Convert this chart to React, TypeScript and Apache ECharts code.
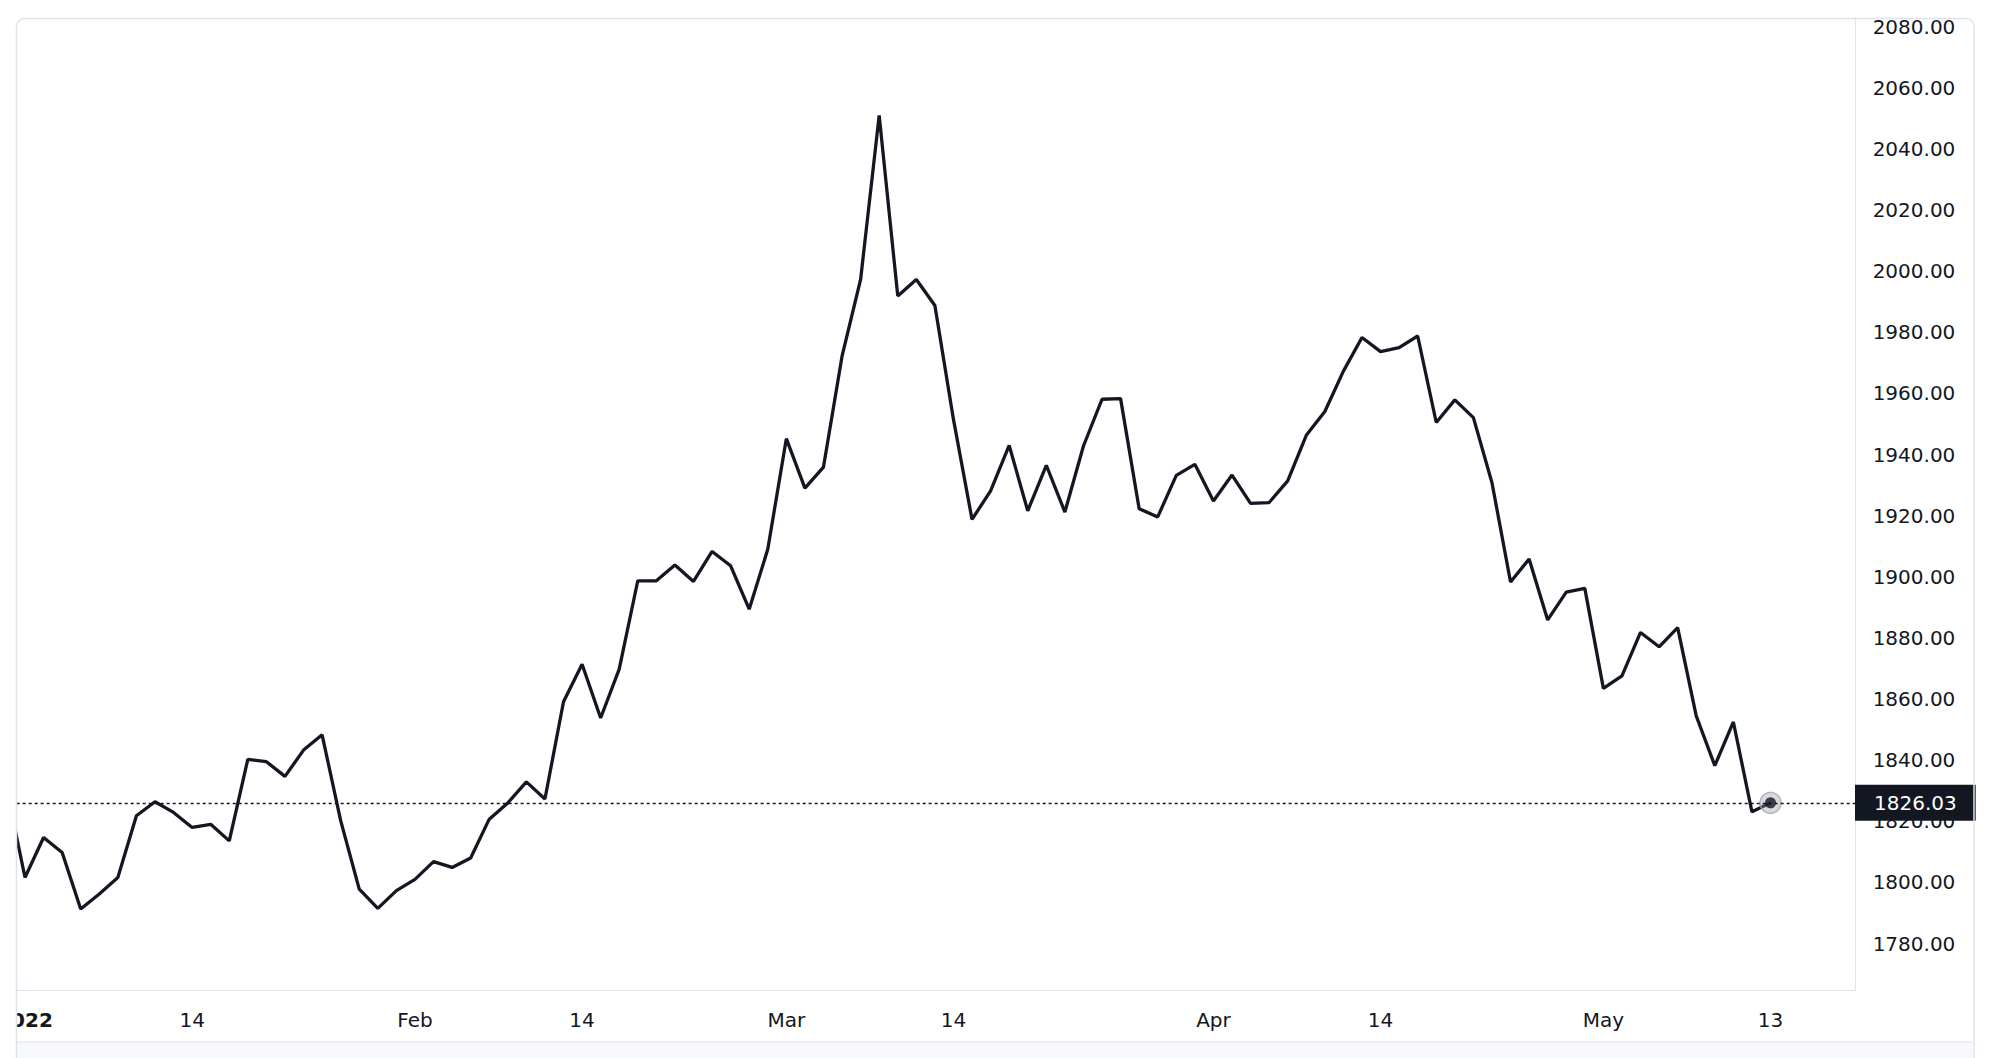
import React, { useEffect, useRef } from "react";
import * as echarts from "echarts";

const dates = [
  "2021-12-31",
  "2022-01-03", "2022-01-04", "2022-01-05", "2022-01-06", "2022-01-07",
  "2022-01-10", "2022-01-11", "2022-01-12", "2022-01-13", "2022-01-14",
  "2022-01-17", "2022-01-18", "2022-01-19", "2022-01-20", "2022-01-21",
  "2022-01-24", "2022-01-25", "2022-01-26", "2022-01-27", "2022-01-28",
  "2022-01-31",
  "2022-02-01", "2022-02-02", "2022-02-03", "2022-02-04",
  "2022-02-07", "2022-02-08", "2022-02-09", "2022-02-10", "2022-02-11",
  "2022-02-14", "2022-02-15", "2022-02-16", "2022-02-17", "2022-02-18",
  "2022-02-21", "2022-02-22", "2022-02-23", "2022-02-24", "2022-02-25",
  "2022-02-28",
  "2022-03-01", "2022-03-02", "2022-03-03", "2022-03-04",
  "2022-03-07", "2022-03-08", "2022-03-09", "2022-03-10", "2022-03-11",
  "2022-03-14", "2022-03-15", "2022-03-16", "2022-03-17", "2022-03-18",
  "2022-03-21", "2022-03-22", "2022-03-23", "2022-03-24", "2022-03-25",
  "2022-03-28", "2022-03-29", "2022-03-30", "2022-03-31",
  "2022-04-01",
  "2022-04-04", "2022-04-05", "2022-04-06", "2022-04-07", "2022-04-08",
  "2022-04-11", "2022-04-12", "2022-04-13", "2022-04-14", "2022-04-15",
  "2022-04-18", "2022-04-19", "2022-04-20", "2022-04-21", "2022-04-22",
  "2022-04-25", "2022-04-26", "2022-04-27", "2022-04-28", "2022-04-29",
  "2022-05-02", "2022-05-03", "2022-05-04", "2022-05-05", "2022-05-06",
  "2022-05-09", "2022-05-10", "2022-05-11", "2022-05-12", "2022-05-13",
];

const closes = [
  1831.0,
  1801.6, 1814.7, 1809.8, 1791.3, 1796.2,
  1801.6, 1821.8, 1826.4, 1822.9, 1818.0,
  1819.0, 1813.6, 1840.3, 1839.5, 1834.7,
  1843.3, 1848.3, 1820.2, 1797.8, 1791.5,
  1797.3,
  1801.0, 1806.8, 1804.9, 1808.0,
  1820.7, 1826.0, 1832.9, 1827.3, 1859.1,
  1871.4, 1853.8, 1869.8, 1898.7, 1898.7,
  1903.9, 1898.5, 1908.3, 1903.6, 1889.4,
  1909.0,
  1945.2, 1929.0, 1935.9, 1972.2,
  1997.3, 2051.0, 1991.9, 1997.3, 1988.8,
  1951.5, 1918.8, 1928.1, 1943.0, 1921.6,
  1936.5, 1921.2, 1942.8, 1958.1, 1958.3,
  1922.3, 1919.6, 1933.2, 1936.8,
  1924.8,
  1933.3, 1924.0, 1924.3, 1931.4, 1946.3,
  1954.1, 1967.3, 1978.3, 1973.7, 1975.0,
  1978.8, 1950.5, 1957.9, 1952.1, 1930.8,
  1898.3, 1905.8, 1885.9, 1895.0, 1896.2,
  1863.5, 1867.6, 1881.8, 1877.1, 1883.4,
  1854.5, 1838.2, 1852.5, 1823.1, 1826.03,
];

const tickDates = [
  "2022-01-03", "2022-01-14", "2022-02-01", "2022-02-14", "2022-03-01",
  "2022-03-14", "2022-04-01", "2022-04-14", "2022-05-02", "2022-05-13",
];
const tickLabels = ["2022", "14", "Feb", "14", "Mar", "14", "Apr", "14", "May", "13"];
const boldTickLabels = ["2022"];

const yTicks = [1780, 1800, 1820, 1840, 1860, 1880, 1900, 1920, 1940, 1960, 1980, 2000, 2020, 2040, 2060, 2080];

const TEXT = "#131722";
const BORDER = "#e0e3eb";
const FONT = "'DejaVu Sans', sans-serif";

export default function App() {
  const ref = useRef<HTMLDivElement>(null);

  useEffect(() => {
    const chart = echarts.init(ref.current!, null, { renderer: "svg" });
    const pts = closes.map((v, i) => [i, v]);
    const last = pts[pts.length - 1];
    const tickIdx = tickDates.map((d) => dates.indexOf(d));

    chart.setOption({
      animation: false,
      backgroundColor: "#ffffff",
      grid: {
        left: 16.7,
        right: 137,
        top: 18,
        bottom: 68,
        containLabel: false,
        outerBoundsMode: "none",
      },
      xAxis: {
        type: "value",
        min: 0.553,
        max: 99.55,
        axisLine: { show: true, onZero: false, lineStyle: { color: BORDER, width: 1 } },
        axisTick: { show: false },
        splitLine: { show: false },
        axisLabel: {
          customValues: tickIdx,
          formatter: (v: number) => {
            const k = tickIdx.indexOf(Math.round(v));
            if (k < 0) return "";
            const s = tickLabels[k];
            return boldTickLabels.includes(s) ? `{b|${s}}` : s;
          },
          color: TEXT,
          fontSize: 20,
          fontFamily: FONT,
          margin: 20,
          rich: {
            b: { fontWeight: "bold", fontSize: 20, fontFamily: FONT, color: TEXT },
          },
        },
      },
      yAxis: {
        type: "value",
        position: "right",
        min: 1764.8,
        max: 2082.85,
        axisLine: { show: true, lineStyle: { color: BORDER, width: 1 } },
        axisTick: { show: false },
        splitLine: { show: false },
        axisLabel: {
          customValues: yTicks,
          formatter: (v: number) => v.toFixed(2),
          align: "center",
          margin: 59,
          color: TEXT,
          fontSize: 20,
          fontFamily: FONT,
        },
      },
      series: [
        {
          type: "line",
          data: pts,
          showSymbol: false,
          symbol: "none",
          lineStyle: { color: TEXT, width: 3.3 },
          z: 3,
          markLine: {
            silent: true,
            symbol: ["none", "none"],
            lineStyle: { color: TEXT, type: [3, 3], width: 1.3 },
            label: {
              show: true,
              position: "end",
              distance: 0,
              formatter: (p: any) => Number(p.value).toFixed(2),
              backgroundColor: TEXT,
              color: "#ffffff",
              fontSize: 20,
              fontFamily: FONT,
              lineHeight: 22,
              padding: [7, 19, 7, 19],
            },
            data: [{ yAxis: last[1] }],
          },
        },
        {
          type: "scatter",
          data: [last],
          symbolSize: 21,
          itemStyle: { color: "rgba(149,152,161,0.45)", borderColor: "#a3a6af", borderWidth: 1.5 },
          z: 4,
          silent: true,
        },
        {
          type: "scatter",
          data: [last],
          symbolSize: 11,
          itemStyle: { color: TEXT },
          z: 5,
          silent: true,
        },
      ],
      graphic: [
        { type: "rect", z: 100, shape: { x: 0, y: 0, width: 16.5, height: 1058 }, style: { fill: "#ffffff" } },
        { type: "rect", z: 100, shape: { x: 16.5, y: 1042, width: 1957.5, height: 20 }, style: { fill: "#f8f9fd" } },
        { type: "line", z: 101, shape: { x1: 16.5, y1: 1042, x2: 1974, y2: 1042 }, style: { stroke: BORDER, lineWidth: 1 } },
        {
          type: "rect",
          z: 102,
          shape: { x: 16.5, y: 18.5, width: 1957.5, height: 1100, r: 8 },
          style: { fill: "none", stroke: BORDER, lineWidth: 1.5 },
        },
      ],
    });

    return () => chart.dispose();
  }, []);

  return (
    <div
      ref={ref}
      style={{ position: "fixed", left: 0, top: 0, width: 1992, height: 1058 }}
    />
  );
}
